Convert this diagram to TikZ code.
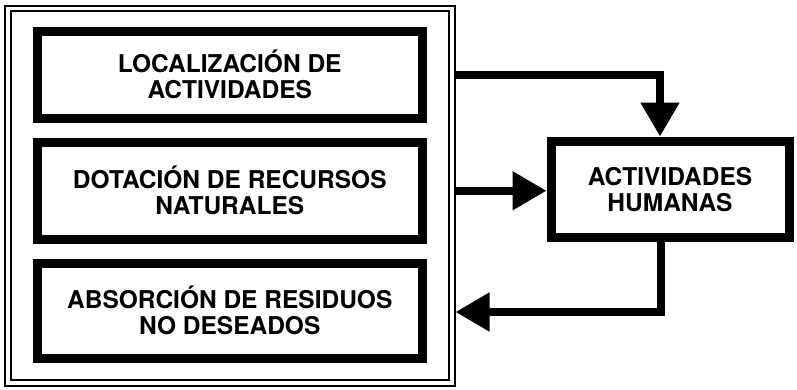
\documentclass[tikz,border=0pt]{standalone}
\usepackage{fontspec}
\setmainfont{TeX Gyre Heros}
\usetikzlibrary{arrows.meta}
\begin{document}
\begin{tikzpicture}[x=1pt,y=-1pt,
  boxtext/.style={font=\fontsize{24.5}{26}\selectfont\bfseries, align=center},
  thickbox/.style={draw=black, line width=9pt, fill=white, inner sep=0pt, boxtext},
  container/.style={draw=black, line width=2pt, double=white, double distance=3.5pt, inner sep=0pt, outer sep=3.75pt},
  flow/.style={line width=8pt, -{Triangle[width=37pt,length=34pt]}}
]
\useasboundingbox (0,0) rectangle (797,389);
\fill[white] (0,0) rectangle (797,389);
\node[container, minimum width=444pt, minimum height=374.5pt] (cont) at (229.75,195.75) {};
\node[thickbox, minimum width=384.5pt, minimum height=87.5pt] (b1) at (229.75,74.75) {LOCALIZACIÓN DE\\ACTIVIDADES};
\node[thickbox, minimum width=384.5pt, minimum height=96.5pt] (b2) at (229.75,190.75) {DOTACIÓN DE RECURSOS\\NATURALES};
\node[thickbox, minimum width=384.5pt, minimum height=95pt] (b3) at (229.75,310.5) {ABSORCIÓN DE RESIDUOS\\NO DESEADOS};
\node[thickbox, minimum width=238pt, minimum height=96.5pt] (act) at (670,189.25) {ACTIVIDADES\\HUMANAS};
\draw[flow] (cont.east |- b1.center) -| ([xshift=-10pt]act.north);
\draw[flow] (cont.east |- b2.center) -- (act.west |- b2.center);
\draw[flow] ([xshift=-9pt]act.south) |- ([yshift=-1.5pt]cont.east |- b3.center);
\end{tikzpicture}
\end{document}
